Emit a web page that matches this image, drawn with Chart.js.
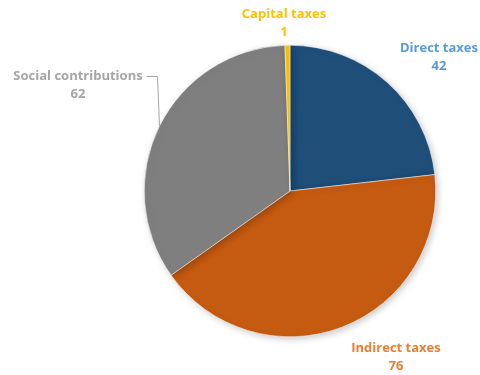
<!DOCTYPE html>
<html>
<head>
<meta charset="utf-8">
<script src="https://cdn.jsdelivr.net/npm/chart.js@4/dist/chart.umd.min.js"></script>
<style>
  html, body { margin: 0; padding: 0; background: #fff; }
  #wrap { width: 480px; height: 375px; }
</style>
</head>
<body>
<div id="wrap"><canvas id="c" width="480" height="375"></canvas></div>
<script>
// Tax revenue by type
const categories = ['Direct taxes', 'Indirect taxes', 'Social contributions', 'Capital taxes'];
const values = [42, 76, 62, 1];

const sliceColors = ['#1F4E79', '#C55A11', '#7F7F7F', '#FFC000'];
const labelColors = ['#5B9BD5', '#ED7D31', '#A5A5A5', '#FFC000'];

// Label anchor (centre of the two-line label block) for each slice
const labelAnchors = [
  { x: 439, y: 57 },
  { x: 396, y: 357 },
  { x: 78, y: 85 },
  { x: 284, y: 23 }
];

const FONT = 'bold 13px "Open Sans", "Liberation Sans", sans-serif';

const shadowPlugin = {
  id: 'pieShadow',
  beforeDatasetsDraw(chart) {
    const ctx = chart.ctx;
    ctx.save();
    ctx.shadowColor = 'rgba(0,0,0,0.22)';
    ctx.shadowBlur = 7;
    ctx.shadowOffsetX = 2;
    ctx.shadowOffsetY = 2;
  },
  afterDatasetsDraw(chart) {
    chart.ctx.restore();
  }
};

const labelPlugin = {
  id: 'sliceLabels',
  afterDraw(chart) {
    const ctx = chart.ctx;
    const meta = chart.getDatasetMeta(0);
    ctx.save();
    ctx.font = FONT;
    ctx.textAlign = 'center';
    ctx.textBaseline = 'middle';
    meta.data.forEach((arc, i) => {
      const a = labelAnchors[i];
      ctx.fillStyle = labelColors[i];
      ctx.fillText(categories[i], a.x, a.y - 9);
      ctx.fillText(String(values[i]), a.x, a.y + 9);
    });
    // leader line for the social contributions label
    const arc = meta.data[2];
    const p = arc.getProps(['x', 'y', 'outerRadius', 'startAngle', 'endAngle'], true);
    const ang = p.startAngle + (p.endAngle - p.startAngle) * 0.5;
    const ex = Math.round(p.x + Math.cos(ang) * p.outerRadius) + 0.5;
    const ey = p.y + Math.sin(ang) * p.outerRadius;
    const w = ctx.measureText(categories[2]).width;
    const sx = labelAnchors[2].x + w / 2 + 4;
    const sy = Math.round(labelAnchors[2].y - 9) + 0.5;
    ctx.strokeStyle = '#A5A5A5';
    ctx.lineWidth = 1;
    ctx.beginPath();
    ctx.moveTo(sx, sy);
    ctx.lineTo(ex - 2, sy);
    ctx.lineTo(ex, ey);
    ctx.stroke();
    ctx.restore();
  }
};

new Chart(document.getElementById('c'), {
  type: 'pie',
  data: {
    labels: categories,
    datasets: [{
      data: values,
      backgroundColor: sliceColors,
      borderColor: '#ffffff',
      borderWidth: 0.5
    }]
  },
  options: {
    responsive: false,
    animation: false,
    layout: { padding: { top: 45, bottom: 38, left: 144, right: 44 } },
    plugins: {
      legend: { display: false },
      tooltip: { enabled: false }
    }
  },
  plugins: [shadowPlugin, labelPlugin]
});
</script>
</body>
</html>
